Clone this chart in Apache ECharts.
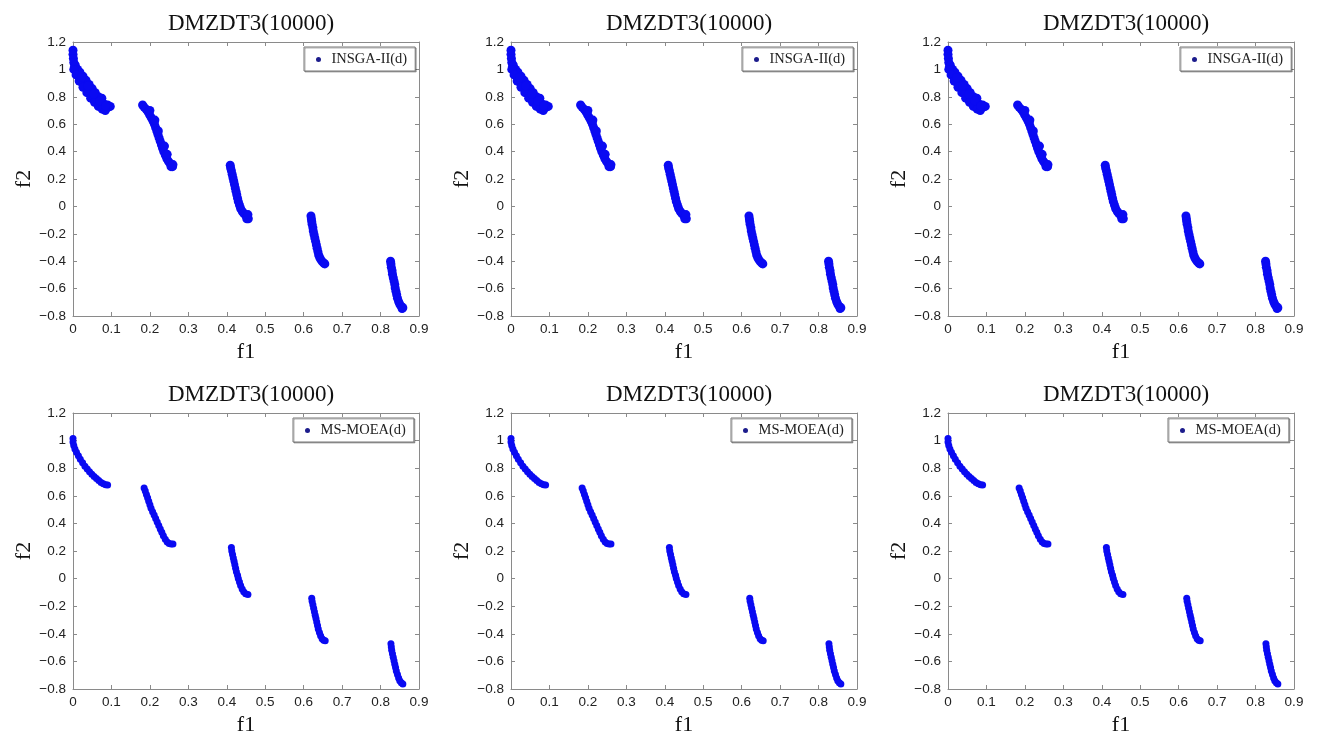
<!DOCTYPE html>
<html>
<head>
<meta charset="utf-8">
<title>DMZDT3(10000)</title>
<script src="https://cdn.jsdelivr.net/npm/echarts@6/dist/echarts.min.js"></script>
<style>
  html, body { margin: 0; padding: 0; background: #fff; }
  #main { width: 1317px; height: 737px; }
</style>
</head>
<body>
<div id="main"></div>
<script>
// tick labels / axis ranges
const xTicks = [0, 0.1, 0.2, 0.3, 0.4, 0.5, 0.6, 0.7, 0.8, 0.9];
const yTicks = [-0.8, -0.6, -0.4, -0.2, 0, 0.2, 0.4, 0.6, 0.8, 1, 1.2];

const chartTitle = 'DMZDT3(10000)';
const algoNames = ['INSGA-II(d)', 'MS-MOEA(d)'];

// INSGA-II(d) front, segment by segment [f1, f2]
const insgaSeg1 = [
  [0, 1.14], [0, 1.11], [0.001, 1.08], [0.002, 1.05], [0.004, 1.02], [0.008, 0.99],
  [0.012, 0.96], [0.018, 0.93], [0.024, 0.90], [0.03, 0.875], [0.037, 0.85], [0.044, 0.825],
  [0.05, 0.80], [0.056, 0.78], [0.062, 0.76], [0.068, 0.745], [0.074, 0.73], [0.08, 0.72],
  [0.086, 0.715], [0.092, 0.725], [0.097, 0.73], [0.075, 0.79],
  [0.006, 1.03], [0.012, 1.0], [0.018, 0.98], [0.026, 0.95], [0.034, 0.92], [0.042, 0.89],
  [0.05, 0.86], [0.058, 0.83], [0.066, 0.80], [0.08, 0.75], [0.09, 0.74],
  [0.002, 1.0], [0.008, 0.96], [0.016, 0.915], [0.026, 0.87], [0.036, 0.83], [0.046, 0.79],
  [0.056, 0.76], [0.066, 0.73], [0.076, 0.71], [0.084, 0.70],
  [0.022, 0.94], [0.038, 0.88], [0.054, 0.82], [0.07, 0.77], [0.085, 0.735]
];
const insgaSeg2 = [
  [0.181, 0.74], [0.185, 0.725], [0.19, 0.71], [0.195, 0.69], [0.199, 0.67], [0.203, 0.65],
  [0.207, 0.63], [0.21, 0.615], [0.212, 0.60], [0.215, 0.575], [0.218, 0.55], [0.221, 0.525],
  [0.224, 0.50], [0.227, 0.475], [0.23, 0.45], [0.233, 0.425], [0.236, 0.40], [0.24, 0.375],
  [0.244, 0.35], [0.248, 0.33], [0.252, 0.315], [0.256, 0.30], [0.259, 0.29], [0.255, 0.29],
  [0.2, 0.70], [0.213, 0.63], [0.222, 0.55], [0.238, 0.44], [0.245, 0.38], [0.26, 0.305]
];
const insgaSeg3 = [
  [0.409, 0.30], [0.41, 0.28], [0.412, 0.26], [0.414, 0.235], [0.416, 0.21], [0.418, 0.185],
  [0.42, 0.16], [0.422, 0.135], [0.424, 0.11], [0.426, 0.085], [0.428, 0.06], [0.43, 0.035],
  [0.433, 0.01], [0.436, -0.015], [0.44, -0.035], [0.444, -0.05], [0.449, -0.065],
  [0.453, -0.08], [0.456, -0.09], [0.452, -0.09], [0.455, -0.06]
];
const insgaSeg4 = [
  [0.619, -0.07], [0.62, -0.09], [0.621, -0.11], [0.622, -0.13], [0.624, -0.155], [0.625, -0.18],
  [0.627, -0.205], [0.629, -0.23], [0.631, -0.255], [0.633, -0.28], [0.635, -0.305],
  [0.637, -0.33], [0.639, -0.355], [0.642, -0.375], [0.645, -0.39], [0.649, -0.405],
  [0.653, -0.415], [0.655, -0.42]
];
const insgaSeg5 = [
  [0.826, -0.40], [0.827, -0.42], [0.828, -0.445], [0.83, -0.47], [0.831, -0.495], [0.833, -0.52],
  [0.835, -0.545], [0.837, -0.57], [0.838, -0.595], [0.84, -0.62], [0.842, -0.645],
  [0.844, -0.67], [0.847, -0.695], [0.85, -0.715], [0.854, -0.73], [0.858, -0.74], [0.856, -0.745]
];

// MS-MOEA(d) front
const msSeg1 = [
  [0, 1.015], [0, 0.99], [0.002, 0.965], [0.005, 0.94], [0.009, 0.915], [0.014, 0.89],
  [0.019, 0.865], [0.025, 0.84], [0.031, 0.815], [0.037, 0.795], [0.043, 0.775], [0.049, 0.757],
  [0.055, 0.74], [0.061, 0.725], [0.067, 0.71], [0.073, 0.697], [0.079, 0.687], [0.085, 0.68],
  [0.09, 0.678]
];
const msSeg2 = [
  [0.185, 0.656], [0.188, 0.635], [0.191, 0.61], [0.194, 0.585], [0.197, 0.56], [0.2, 0.535],
  [0.203, 0.51], [0.207, 0.485], [0.211, 0.46], [0.215, 0.435], [0.219, 0.41], [0.223, 0.385],
  [0.227, 0.36], [0.231, 0.335], [0.235, 0.31], [0.24, 0.285], [0.245, 0.265], [0.25, 0.255],
  [0.255, 0.25], [0.26, 0.25]
];
const msSeg3 = [
  [0.412, 0.225], [0.413, 0.2], [0.415, 0.175], [0.417, 0.15], [0.419, 0.125], [0.421, 0.1],
  [0.423, 0.075], [0.425, 0.05], [0.428, 0.025], [0.43, 0.0], [0.433, -0.025], [0.436, -0.05],
  [0.44, -0.075], [0.444, -0.095], [0.449, -0.11], [0.455, -0.115]
];
const msSeg4 = [
  [0.621, -0.142], [0.622, -0.165], [0.624, -0.19], [0.626, -0.215], [0.628, -0.24],
  [0.63, -0.265], [0.632, -0.29], [0.634, -0.315], [0.636, -0.34], [0.638, -0.365],
  [0.641, -0.39], [0.644, -0.415], [0.648, -0.435], [0.652, -0.447], [0.656, -0.45]
];
const msSeg5 = [
  [0.827, -0.473], [0.828, -0.495], [0.829, -0.52], [0.831, -0.545], [0.833, -0.57],
  [0.835, -0.595], [0.837, -0.62], [0.839, -0.645], [0.841, -0.67], [0.844, -0.695],
  [0.847, -0.72], [0.85, -0.74], [0.854, -0.755], [0.858, -0.763]
];

const insgaData = [].concat(insgaSeg1, insgaSeg2, insgaSeg3, insgaSeg4, insgaSeg5);
const msData = [].concat(msSeg1, msSeg2, msSeg3, msSeg4, msSeg5);

// layout of the 2x3 panels
const colLeft = [73, 511, 948];
const rowTop = [42, 413];
const plotW = 346;
const plotH = [274, 276];
const legendPos = [
  [{ left: 304, top: 47 }, { left: 742, top: 47 }, { left: 1180, top: 47 }],
  [{ left: 293, top: 418 }, { left: 731, top: 418 }, { left: 1168, top: 418 }]
];

const serif = '"Liberation Serif", "DejaVu Serif", serif';
const sans = '"Liberation Sans", Arial, sans-serif';
const boxColor = '#8a8a8a';

const fmt = (v) => {
  const s = String(Math.round(v * 10) / 10);
  return v < 0 ? '\u2212' + s.slice(1) : s;
};

const grid = [];
const xAxis = [];
const yAxis = [];
const series = [];
const title = [];
const legend = [];

rowTop.forEach((top, r) => {
  colLeft.forEach((left, c) => {
    const gi = grid.length;
    grid.push({ left, top, width: plotW, height: plotH[r], show: false });
    title.push({
      text: chartTitle,
      left: left + plotW / 2,
      top: top - 35,
      textAlign: 'center',
      textStyle: { fontFamily: serif, fontWeight: 'normal', fontSize: 23, color: '#111' },
    });
    const tick = { show: true, inside: true, length: 4, lineStyle: { color: boxColor } };
    const line = { show: true, onZero: false, lineStyle: { color: boxColor, width: 1 } };
    xAxis.push({
      type: 'value', gridIndex: gi, position: 'bottom',
      min: xTicks[0], max: xTicks[xTicks.length - 1], interval: 0.1,
      axisLine: line, axisTick: tick, splitLine: { show: false },
      axisLabel: { formatter: fmt, color: '#222', fontFamily: sans, fontSize: 13.5, margin: 6 },
      name: 'f1', nameLocation: 'middle', nameGap: 25,
      nameTextStyle: { fontFamily: serif, fontSize: 22, color: '#111' },
    });
    xAxis.push({
      type: 'value', gridIndex: gi, position: 'top',
      min: xTicks[0], max: xTicks[xTicks.length - 1], interval: 0.1,
      axisLine: line, axisTick: tick, splitLine: { show: false }, axisLabel: { show: false },
    });
    yAxis.push({
      type: 'value', gridIndex: gi, position: 'left',
      min: yTicks[0], max: yTicks[yTicks.length - 1], interval: 0.2,
      axisLine: line, axisTick: tick, splitLine: { show: false },
      axisLabel: { formatter: fmt, color: '#222', fontFamily: sans, fontSize: 13.5, margin: 7 },
      name: 'f2', nameLocation: 'middle', nameGap: 38, nameRotate: 90,
      nameTextStyle: { fontFamily: serif, fontSize: 22, color: '#111' },
    });
    yAxis.push({
      type: 'value', gridIndex: gi, position: 'right',
      min: yTicks[0], max: yTicks[yTicks.length - 1], interval: 0.2,
      axisLine: line, axisTick: tick, splitLine: { show: false }, axisLabel: { show: false },
    });
    const name = algoNames[r];
    series.push({
      type: 'scatter',
      name,
      xAxisIndex: gi * 2,
      yAxisIndex: gi * 2,
      symbol: 'circle',
      symbolSize: r === 0 ? 9 : 7,
      itemStyle: { color: '#0a0af2', opacity: 1 },
      data: r === 0 ? insgaData : msData,
    });
    legend.push({
      left: legendPos[r][c].left,
      top: legendPos[r][c].top,
      data: [{ name, itemStyle: { color: '#1c1c8c' } }],
      icon: 'circle',
      itemWidth: 8,
      itemHeight: 5,
      itemGap: 0,
      padding: [5, 8, 4, 12],
      backgroundColor: '#fff',
      borderColor: '#777',
      borderWidth: 1,
      shadowColor: 'rgba(0,0,0,0.3)',
      shadowOffsetX: 1,
      shadowOffsetY: 1,
      shadowBlur: 0,
      selectedMode: false,
      textStyle: { fontFamily: serif, fontSize: 14.5, color: '#222', padding: [0, 0, 0, 4] },
    });
  });
});

const chart = echarts.init(document.getElementById('main'));
chart.setOption({
  backgroundColor: '#fff',
  animation: false,
  title,
  legend,
  grid,
  xAxis,
  yAxis,
  series,
});
window.addEventListener('resize', () => {
  chart.resize();
});
</script>
</body>
</html>
